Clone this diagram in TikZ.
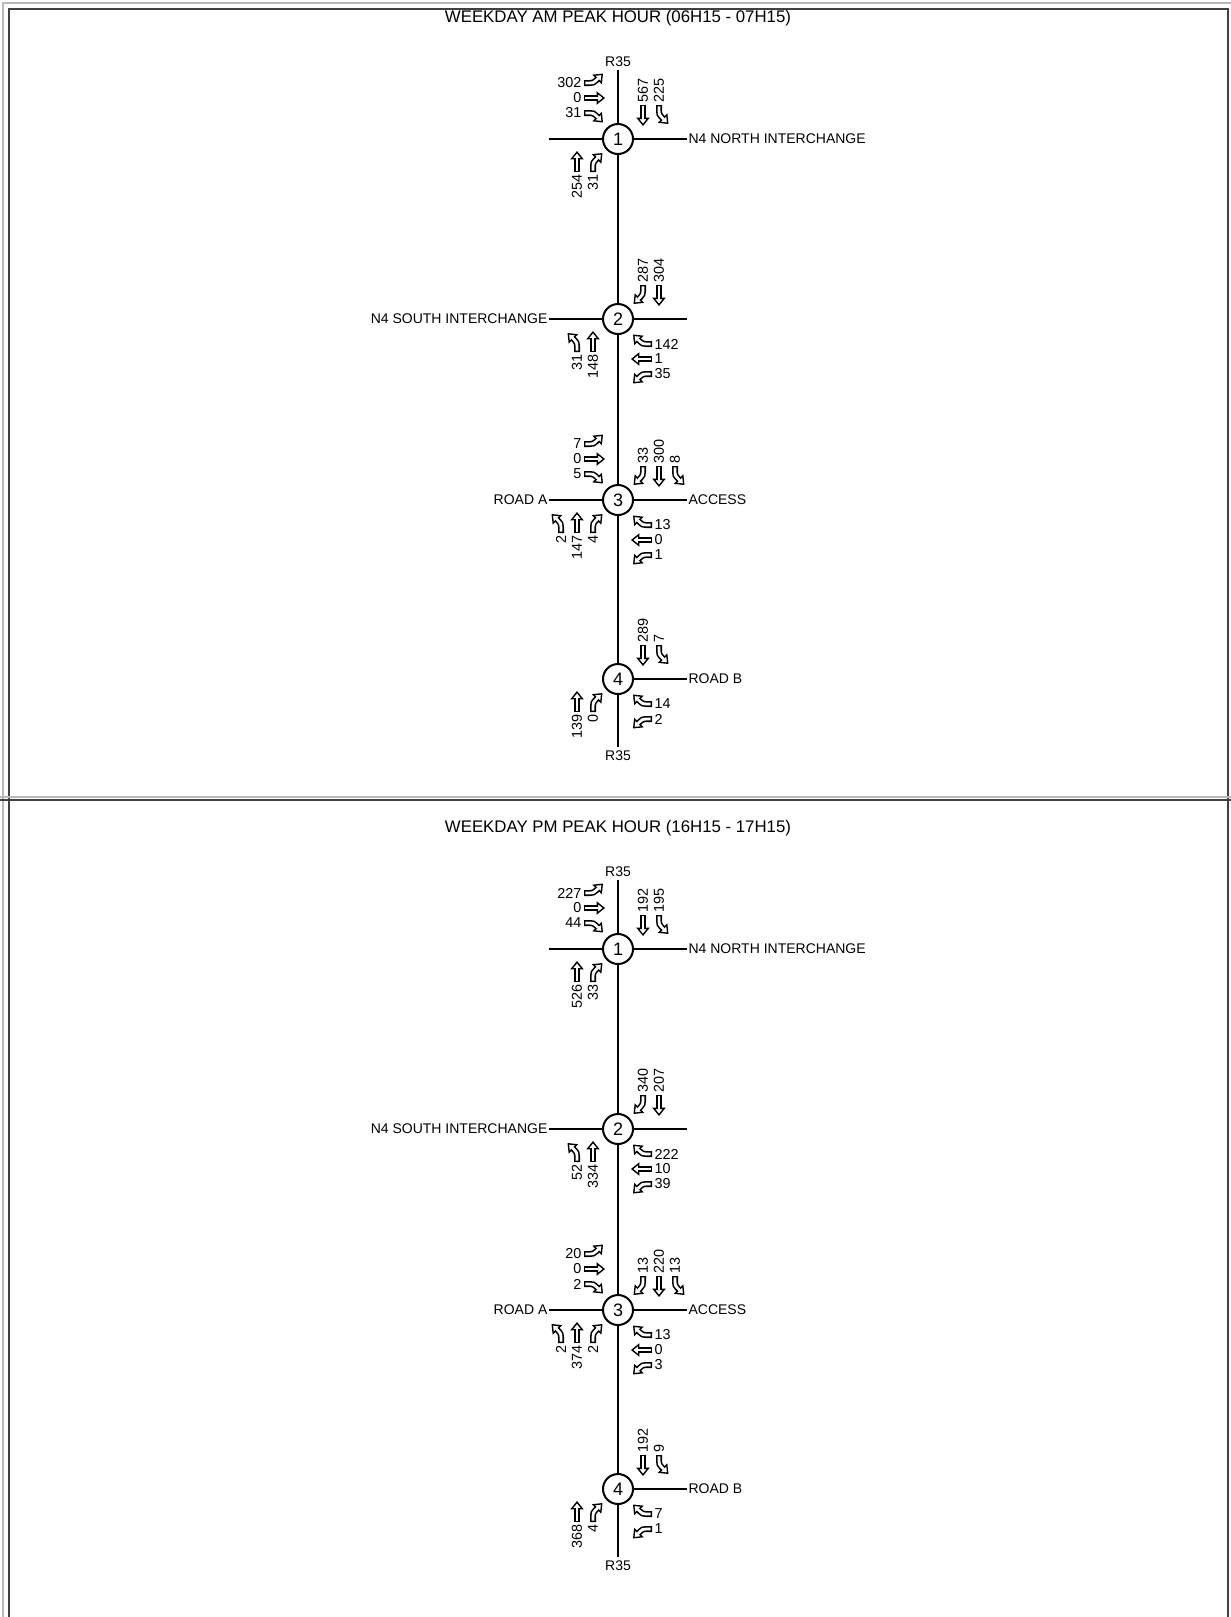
\documentclass[tikz,border=0pt]{standalone}
\usepackage{fontspec}
\setmainfont{Liberation Sans}
\usetikzlibrary{arrows.meta,positioning,calc}

% hollow turning-movement arrows: black shaft + tip, then white core
\newcommand{\flowpath}[1]{\draw[flow] #1; \draw[core] #1;}
\tikzset{
  thru/.pic={\flowpath{(0,0) -- (21,0)}},
  lturn/.pic={\flowpath{(0,0) -- (6,0) .. controls (9,0) and (10,.5) .. (12,2.5) -- (19,9.5)}},
  rturn/.pic={\flowpath{(0,0) -- (6,0) .. controls (9,0) and (10,-.5) .. (12,-2.5) -- (19,-9.5)}}
}
% one movement per call: position, arrow kind, count
\newcommand{\eastflow}[3]{\pic at (-34,#1) {#2};
  \node[num,anchor=east] (eb#1) at (-35,#1) {#3};}
\newcommand{\southflow}[3]{\pic[rotate=-90] at (#1,34) {#2};
  \node[num,rotate=90,anchor=west] (sb#1) at (#1,35) {#3};}
\newcommand{\northflow}[3]{\pic[rotate=90] at (#1,-33) {#2};
  \node[num,rotate=90,anchor=east] (nb#1) at (#1,-34) {#3};}
\newcommand{\westflow}[3]{\pic[rotate=180] at (34,#1) {#2};
  \node[num,anchor=west] (wb#1) at (35,#1) {#3};}
% the R35 corridor with its four junctions
\newcommand{\corridor}[2]{%
  \node[ttl] (ttl) at (618,{-18-#1}) {#2};
  \node[jn] (j1) at (618,{-139-#1}) {1};
  \node[jn] (j2) at (618,{-319-#1}) {2};
  \node[jn] (j3) at (618,{-500-#1}) {3};
  \node[jn] (j4) at (618,{-679-#1}) {4};
  \coordinate (top) at (618,{-70-#1});
  \coordinate (bot) at (618,{-747-#1});
  \foreach \j in {1,2,3} \coordinate (w\j) at ($(j\j)+(-69,0)$);
  \foreach \j in {1,2,3,4} \coordinate (e\j) at ($(j\j)+(69,0)$);
  \draw[road] (top) -- (j1) -- (j2) -- (j3) -- (j4) -- (bot);
  \foreach \j in {1,2,3} \draw[road] (w\j) -- (j\j);
  \foreach \j in {1,2,3,4} \draw[road] (j\j) -- (e\j);
  \node[lbl,above=1pt of top] (r35n) {R35};
  \node[lbl,below=1.2pt of bot] (r35s) {R35};
  \node[lbl,right=0pt of e1] (n4n) {N4 NORTH INTERCHANGE};
  \node[lbl,left=0pt of w2] (n4s) {N4 SOUTH INTERCHANGE};
  \node[lbl,left=0pt of w3] (rda) {ROAD A};
  \node[lbl,right=0pt of e3] (acc) {ACCESS};
  \node[lbl,right=0pt of e4] (rdb) {ROAD B};
}

\begin{document}
\begin{tikzpicture}[x=.5pt,y=.5pt,
  flow/.style={line width=3pt,-{Triangle[length=4.2pt,width=6.6pt,fill=white,line width=.7pt]}},
  core/.style={white,line width=1.4pt,shorten <=.7pt,shorten >=3.4pt},
  num/.style={font=\fontsize{7.2}{8}\selectfont,inner sep=.6pt},
  lbl/.style={font=\fontsize{7}{8}\selectfont,inner sep=.6pt},
  ttl/.style={font=\fontsize{8.4}{10}\selectfont,inner sep=0pt},
  road/.style={line width=1.4pt},
  jn/.style={circle,draw,line width=1pt,fill=white,minimum size=15pt,inner sep=0pt,font=\fontsize{9}{9}\selectfont},
  frame/.style={black!75,line width=1pt}]
\useasboundingbox (0,0) rectangle (1231,-1617);

% AM peak
\begin{scope}[name prefix=am-]
\corridor{0}{WEEKDAY AM PEAK HOUR (06H15 - 07H15)}
\begin{scope}[shift={(j1)},name prefix=am1-]
  \eastflow{56}{lturn}{302} \eastflow{41}{thru}{0} \eastflow{26}{rturn}{31}
  \southflow{25}{thru}{567} \southflow{41}{lturn}{225}
  \northflow{-41}{thru}{254} \northflow{-25}{rturn}{31}
\end{scope}
\begin{scope}[shift={(j2)},name prefix=am2-]
  \southflow{25}{rturn}{287} \southflow{41}{thru}{304}
  \northflow{-41}{lturn}{31} \northflow{-25}{thru}{148}
  \westflow{-25}{rturn}{142} \westflow{-40}{thru}{1} \westflow{-55}{lturn}{35}
\end{scope}
\begin{scope}[shift={(j3)},name prefix=am3-]
  \eastflow{56}{lturn}{7} \eastflow{41}{thru}{0} \eastflow{26}{rturn}{5}
  \southflow{25}{rturn}{33} \southflow{41}{thru}{300} \southflow{57}{lturn}{8}
  \northflow{-57}{lturn}{2} \northflow{-41}{thru}{147} \northflow{-25}{rturn}{4}
  \westflow{-25}{rturn}{13} \westflow{-40}{thru}{0} \westflow{-55}{lturn}{1}
\end{scope}
\begin{scope}[shift={(j4)},name prefix=am4-]
  \southflow{25}{thru}{289} \southflow{41}{lturn}{7}
  \northflow{-41}{thru}{139} \northflow{-25}{rturn}{0}
  \westflow{-25}{rturn}{14} \westflow{-40}{lturn}{2}
\end{scope}
\end{scope}

% PM peak
\begin{scope}[name prefix=pm-]
\corridor{810}{WEEKDAY PM PEAK HOUR (16H15 - 17H15)}
\begin{scope}[shift={(j1)},name prefix=pm1-]
  \eastflow{56}{lturn}{227} \eastflow{41}{thru}{0} \eastflow{26}{rturn}{44}
  \southflow{25}{thru}{192} \southflow{41}{lturn}{195}
  \northflow{-41}{thru}{526} \northflow{-25}{rturn}{33}
\end{scope}
\begin{scope}[shift={(j2)},name prefix=pm2-]
  \southflow{25}{rturn}{340} \southflow{41}{thru}{207}
  \northflow{-41}{lturn}{52} \northflow{-25}{thru}{334}
  \westflow{-25}{rturn}{222} \westflow{-40}{thru}{10} \westflow{-55}{lturn}{39}
\end{scope}
\begin{scope}[shift={(j3)},name prefix=pm3-]
  \eastflow{56}{lturn}{20} \eastflow{41}{thru}{0} \eastflow{26}{rturn}{2}
  \southflow{25}{rturn}{13} \southflow{41}{thru}{220} \southflow{57}{lturn}{13}
  \northflow{-57}{lturn}{2} \northflow{-41}{thru}{374} \northflow{-25}{rturn}{2}
  \westflow{-25}{rturn}{13} \westflow{-40}{thru}{0} \westflow{-55}{lturn}{3}
\end{scope}
\begin{scope}[shift={(j4)},name prefix=pm4-]
  \southflow{25}{thru}{192} \southflow{41}{lturn}{9}
  \northflow{-41}{thru}{368} \northflow{-25}{rturn}{4}
  \westflow{-25}{rturn}{7} \westflow{-40}{lturn}{1}
\end{scope}
\end{scope}

% sheet frame
\draw[gray!55,line width=.7pt] (3,-1617) -- (3,-3) -- (1231,-3);
\draw[frame] (9,-1617) -- (9,-9) -- (1228,-9) -- (1228,-1617);
\draw[gray!55,line width=.7pt] (0,-797) -- (1231,-797);
\draw[frame] (0,-800) -- (1231,-800);
\end{tikzpicture}
\end{document}
